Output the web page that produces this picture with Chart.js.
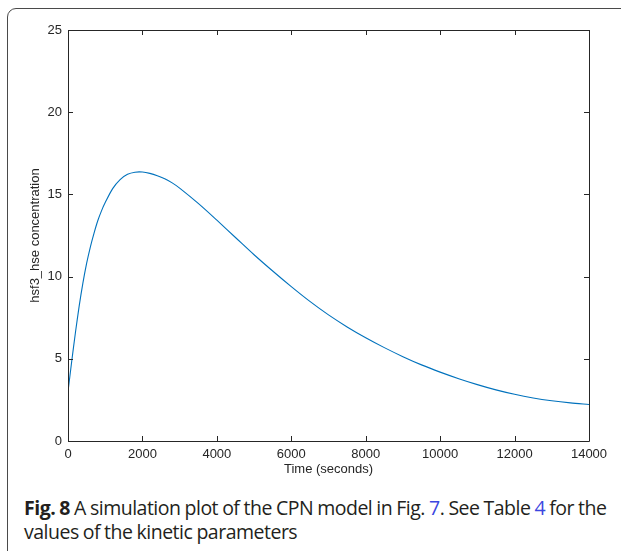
<!DOCTYPE html>
<html>
<head>
<meta charset="utf-8">
<script src="https://cdn.jsdelivr.net/npm/chart.js@4"></script>
<style>
  html, body { margin: 0; padding: 0; background: #fff; }
  body { width: 621px; height: 551px; position: relative; overflow: hidden; }
  #frame {
    position: absolute; left: 7px; top: 8px; width: 700px; height: 600px;
    border: 1px solid #4a4a4a; border-radius: 9px; box-sizing: border-box;
  }
  #wrap { position: absolute; left: 0; top: 0; width: 621px; height: 480px; }
  #caption {
    position: absolute; left: 24px; top: 496px; width: 620px;
    font-family: "Open Sans", sans-serif; font-size: 19.5px; line-height: 24px;
    color: #231f20; letter-spacing: -0.5px; word-spacing: -0.5px;
  }
  #caption b { font-weight: 700; }
  #caption .ref { color: #3b46e0; }
</style>
</head>
<body>
<div id="frame"></div>
<div id="wrap"><canvas id="myChart" width="621" height="480"></canvas></div>
<div id="caption"><b>Fig. 8</b> A simulation plot of the CPN model in Fig. <span class="ref">7</span>. See Table <span class="ref">4</span> for the<br>values of the kinetic parameters</div>

<script>
// time (seconds) and hsf3_hse concentration
const times = [0, 100, 200, 300, 400, 500, 600, 700, 800, 900, 1000, 1200, 1400, 1600, 1800, 2000,
  2200, 2400, 2600, 2800, 3000, 3500, 4000, 4500, 5000, 5500, 6000, 6500, 7000, 7500,
  8000, 8500, 9000, 9500, 10000, 10500, 11000, 11500, 12000, 12500, 13000, 13500, 14000];
const conc = [3.0, 4.85, 6.6, 8.2, 9.6, 10.8, 11.8, 12.65, 13.4, 14.0, 14.5, 15.35, 15.9, 16.22, 16.35, 16.36,
  16.28, 16.14, 15.95, 15.7, 15.38, 14.45, 13.43, 12.38, 11.33, 10.34, 9.39, 8.49, 7.67, 6.94,
  6.28, 5.68, 5.13, 4.63, 4.19, 3.79, 3.43, 3.11, 2.84, 2.62, 2.45, 2.32, 2.22];
const xTicks = [0, 2000, 4000, 6000, 8000, 10000, 12000, 14000];
const yTicks = [0, 5, 10, 15, 20, 25];

const points = times.map((t, i) => ({ x: t, y: conc[i] }));
const axisColor = '#262626';
const tickFont = { family: 'Liberation Sans, Arial, sans-serif', size: 13 };

// MATLAB style box with inward ticks on all four sides
const boxPlugin = {
  id: 'box',
  afterDatasetsDraw(chart) {
    const { ctx, chartArea: a, scales: { x, y } } = chart;
    const len = 5;
    ctx.save();
    ctx.strokeStyle = axisColor;
    ctx.lineWidth = 1;
    ctx.beginPath();
    ctx.rect(Math.round(a.left) + 0.5, Math.round(a.top) + 0.5,
      Math.round(a.right - a.left), Math.round(a.bottom - a.top));
    xTicks.forEach(v => {
      const px = Math.round(x.getPixelForValue(v)) + 0.5;
      ctx.moveTo(px, a.bottom); ctx.lineTo(px, a.bottom - len);
      ctx.moveTo(px, a.top); ctx.lineTo(px, a.top + len);
    });
    yTicks.forEach(v => {
      const py = Math.round(y.getPixelForValue(v)) + 0.5;
      ctx.moveTo(a.left, py); ctx.lineTo(a.left + len, py);
      ctx.moveTo(a.right, py); ctx.lineTo(a.right - len, py);
    });
    ctx.stroke();
    ctx.restore();
  }
};

const ctx = document.getElementById('myChart').getContext('2d');
const myChart = new Chart(ctx, {
  type: 'line',
  data: {
    datasets: [{
      data: points,
      borderColor: '#0072BD',
      borderWidth: 1.1,
      pointRadius: 0,
      fill: false,
      tension: 0.3
    }]
  },
  options: {
    responsive: false,
    animation: false,
    events: [],
    layout: { padding: { top: 30, right: 32, left: 0, bottom: 0 } },
    plugins: { legend: { display: false }, tooltip: { enabled: false } },
    scales: {
      x: {
        type: 'linear', min: 0, max: 14000,
        afterBuildTicks: s => { s.ticks = xTicks.map(v => ({ value: v })); },
        afterFit: s => { s.height = 39; },
        grid: { display: false, drawTicks: false },
        border: { display: false },
        ticks: { padding: 6, color: axisColor, font: tickFont, maxRotation: 0, callback: v => v },
        title: { display: true, text: 'Time (seconds)', color: axisColor, font: tickFont, padding: { top: 0, bottom: 3 } }
      },
      y: {
        type: 'linear', min: 0, max: 25,
        afterBuildTicks: s => { s.ticks = yTicks.map(v => ({ value: v })); },
        afterFit: s => { s.width = 68; },
        grid: { display: false, drawTicks: false },
        border: { display: false },
        ticks: { padding: 6, color: axisColor, font: tickFont },
        title: { display: true, text: 'hsf3_hse concentration', color: axisColor, font: tickFont, padding: { top: 28, bottom: 0 } }
      }
    }
  },
  plugins: [boxPlugin]
});
</script>
</body>
</html>
